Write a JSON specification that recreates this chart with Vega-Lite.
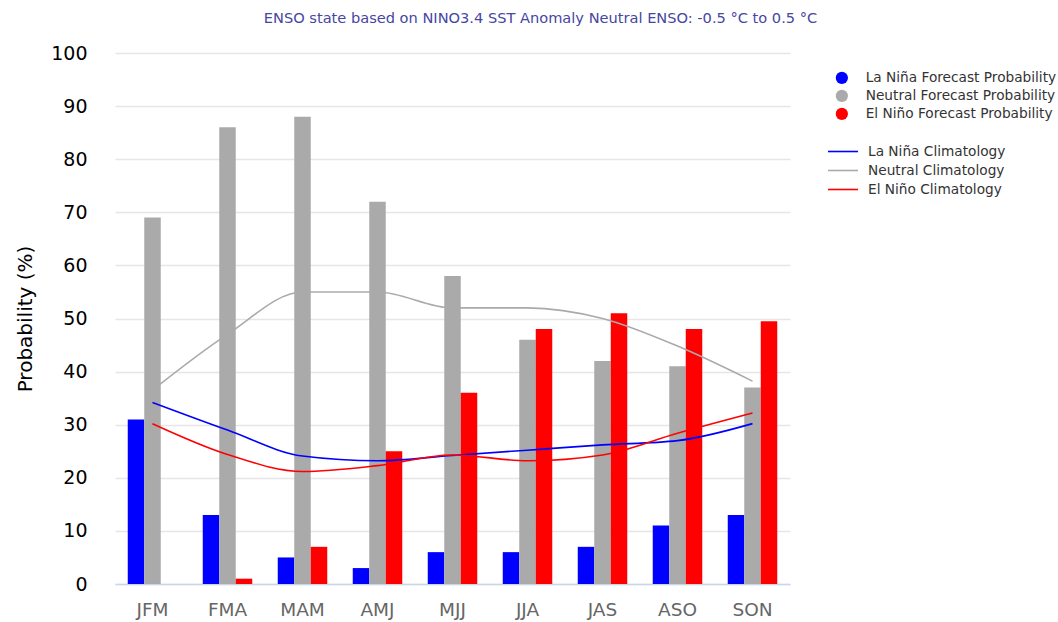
{
  "$schema": "https://vega.github.io/schema/vega-lite/v6.json",
  "autosize": {"type": "none"},
  "width": 675,
  "height": 531,
  "padding": {"left": 115, "top": 53, "right": 268, "bottom": 38},
  "config": {
    "font": "DejaVu Sans",
    "view": {"stroke": null},
    "axis": {"labelFont": "DejaVu Sans", "titleFont": "DejaVu Sans"}
  },
  "title": {
    "text": "ENSO state based on NINO3.4 SST Anomaly Neutral ENSO: -0.5 °C to 0.5 °C",
    "anchor": "middle",
    "frame": "group",
    "dx": 88,
    "offset": 18,
    "fontSize": 14.6,
    "fontWeight": "normal",
    "color": "#4646a3"
  },
  "datasets": {
    "forecast": [
      {"season": "JFM", "category": "La Niña Forecast Probability", "value": 31},
      {"season": "JFM", "category": "Neutral Forecast Probability", "value": 69},
      {"season": "JFM", "category": "El Niño Forecast Probability", "value": 0},
      {"season": "FMA", "category": "La Niña Forecast Probability", "value": 13},
      {"season": "FMA", "category": "Neutral Forecast Probability", "value": 86},
      {"season": "FMA", "category": "El Niño Forecast Probability", "value": 1},
      {"season": "MAM", "category": "La Niña Forecast Probability", "value": 5},
      {"season": "MAM", "category": "Neutral Forecast Probability", "value": 88},
      {"season": "MAM", "category": "El Niño Forecast Probability", "value": 7},
      {"season": "AMJ", "category": "La Niña Forecast Probability", "value": 3},
      {"season": "AMJ", "category": "Neutral Forecast Probability", "value": 72},
      {"season": "AMJ", "category": "El Niño Forecast Probability", "value": 25},
      {"season": "MJJ", "category": "La Niña Forecast Probability", "value": 6},
      {"season": "MJJ", "category": "Neutral Forecast Probability", "value": 58},
      {"season": "MJJ", "category": "El Niño Forecast Probability", "value": 36},
      {"season": "JJA", "category": "La Niña Forecast Probability", "value": 6},
      {"season": "JJA", "category": "Neutral Forecast Probability", "value": 46},
      {"season": "JJA", "category": "El Niño Forecast Probability", "value": 48},
      {"season": "JAS", "category": "La Niña Forecast Probability", "value": 7},
      {"season": "JAS", "category": "Neutral Forecast Probability", "value": 42},
      {"season": "JAS", "category": "El Niño Forecast Probability", "value": 51},
      {"season": "ASO", "category": "La Niña Forecast Probability", "value": 11},
      {"season": "ASO", "category": "Neutral Forecast Probability", "value": 41},
      {"season": "ASO", "category": "El Niño Forecast Probability", "value": 48},
      {"season": "SON", "category": "La Niña Forecast Probability", "value": 13},
      {"season": "SON", "category": "Neutral Forecast Probability", "value": 37},
      {"season": "SON", "category": "El Niño Forecast Probability", "value": 49.5}
    ],
    "clim": [
      {"season": "JFM", "category": "La Niña Climatology", "value": 34.2},
      {"season": "FMA", "category": "La Niña Climatology", "value": 29},
      {"season": "MAM", "category": "La Niña Climatology", "value": 24.1},
      {"season": "AMJ", "category": "La Niña Climatology", "value": 23.2},
      {"season": "MJJ", "category": "La Niña Climatology", "value": 24.2},
      {"season": "JJA", "category": "La Niña Climatology", "value": 25.2},
      {"season": "JAS", "category": "La Niña Climatology", "value": 26.2},
      {"season": "ASO", "category": "La Niña Climatology", "value": 27},
      {"season": "SON", "category": "La Niña Climatology", "value": 30.2},
      {"season": "JFM", "category": "Neutral Climatology", "value": 36.5},
      {"season": "FMA", "category": "Neutral Climatology", "value": 47},
      {"season": "MAM", "category": "Neutral Climatology", "value": 55},
      {"season": "AMJ", "category": "Neutral Climatology", "value": 55},
      {"season": "MJJ", "category": "Neutral Climatology", "value": 52},
      {"season": "JJA", "category": "Neutral Climatology", "value": 52},
      {"season": "JAS", "category": "Neutral Climatology", "value": 50},
      {"season": "ASO", "category": "Neutral Climatology", "value": 44.8},
      {"season": "SON", "category": "Neutral Climatology", "value": 38.2},
      {"season": "JFM", "category": "El Niño Climatology", "value": 30.2},
      {"season": "FMA", "category": "El Niño Climatology", "value": 24.4},
      {"season": "MAM", "category": "El Niño Climatology", "value": 21.2},
      {"season": "AMJ", "category": "El Niño Climatology", "value": 22.3},
      {"season": "MJJ", "category": "El Niño Climatology", "value": 24.3},
      {"season": "JJA", "category": "El Niño Climatology", "value": 23.2},
      {"season": "JAS", "category": "El Niño Climatology", "value": 24.3},
      {"season": "ASO", "category": "El Niño Climatology", "value": 28.4},
      {"season": "SON", "category": "El Niño Climatology", "value": 32.2}
    ]
  },
  "encoding": {
    "x": {
      "field": "season",
      "type": "nominal",
      "sort": ["JFM", "FMA", "MAM", "AMJ", "MJJ", "JJA", "JAS", "ASO", "SON"],
      "scale": {"paddingInner": 0.34, "paddingOuter": 0.17},
      "axis": {
        "title": null,
        "labelAngle": 0,
        "labelFontSize": 18.5,
        "labelColor": "#666666",
        "labelPadding": 16,
        "ticks": false,
        "domainColor": "#ccd6eb",
        "domainWidth": 1.5
      }
    },
    "y": {
      "field": "value",
      "type": "quantitative",
      "scale": {"domain": [0, 100], "nice": false},
      "axis": {
        "title": "Probability (%)",
        "titleFontSize": 20,
        "titleFontWeight": "normal",
        "titleColor": "#000000",
        "titlePadding": 15,
        "values": [0, 10, 20, 30, 40, 50, 60, 70, 80, 90, 100],
        "labelFontSize": 19,
        "labelColor": "#000000",
        "labelPadding": 28,
        "ticks": false,
        "domain": false,
        "gridColor": "#e6e6e6",
        "gridWidth": 1.5
      }
    }
  },
  "layer": [
    {
      "data": {"name": "forecast"},
      "mark": {"type": "bar"},
      "encoding": {
        "xOffset": {
          "field": "category",
          "type": "nominal",
          "sort": ["La Niña Forecast Probability", "Neutral Forecast Probability", "El Niño Forecast Probability"],
          "scale": {"paddingInner": 0}
        },
        "color": {
          "field": "category",
          "type": "nominal",
          "sort": ["La Niña Forecast Probability", "Neutral Forecast Probability", "El Niño Forecast Probability"],
          "scale": {
            "domain": ["La Niña Forecast Probability", "Neutral Forecast Probability", "El Niño Forecast Probability"],
            "range": ["#0000ff", "#aaaaaa", "#ff0000"]
          },
          "legend": {
            "title": null,
            "orient": "none",
            "legendX": 720,
            "legendY": 18,
            "symbolType": "circle",
            "symbolSize": 150,
            "symbolStrokeWidth": 0,
            "labelFontSize": 13.7,
            "labelColor": "#333333",
            "labelOffset": 17,
            "rowPadding": 3,
            "labelLimit": 300
          }
        }
      }
    },
    {
      "data": {"name": "clim"},
      "mark": {"type": "line", "interpolate": "monotone", "strokeWidth": 1.6},
      "encoding": {
        "color": {
          "field": "category",
          "type": "nominal",
          "scale": {
            "domain": ["La Niña Climatology", "Neutral Climatology", "El Niño Climatology"],
            "range": ["#0000ff", "#aaaaaa", "#ff0000"]
          },
          "legend": {
            "title": null,
            "orient": "none",
            "legendX": 719.5,
            "legendY": 90,
            "symbolType": "M-2,0H2",
            "symbolSize": 225,
            "symbolStrokeWidth": 1.6,
            "labelFontSize": 13.7,
            "labelColor": "#333333",
            "labelOffset": 16.5,
            "rowPadding": 3,
            "labelLimit": 300
          }
        }
      }
    },
    {
      "mark": {"type": "rule", "color": "#000000", "strokeWidth": 2},
      "encoding": {"y": {"datum": 50}, "x": null}
    }
  ],
  "resolve": {"scale": {"color": "independent"}}
}
